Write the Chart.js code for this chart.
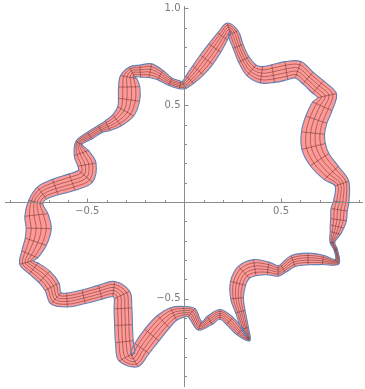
<!DOCTYPE html>
<html>
<head>
<meta charset="utf-8">
<script src="https://cdn.jsdelivr.net/npm/chart.js@4.4.1/dist/chart.umd.min.js"></script>
<style>
  html, body { margin: 0; padding: 0; background: #fff; }
  #wrap { width: 365px; height: 389px; position: relative; }
</style>
</head>
<body>
<div id="wrap"><canvas id="chart"></canvas></div>
<script>
// centre line of the band, counter-clockwise from the +x axis
const centerX = [
  0.811, 0.814, 0.759, 0.699, 0.668, 0.665, 0.682, 0.713, 0.737, 0.691,
  0.639, 0.588, 0.527, 0.459, 0.399, 0.347, 0.308, 0.278, 0.253, 0.230,
  0.198, 0.158, 0.115, 0.072, 0.029, 0.000, -0.021, -0.072, -0.124, -0.175,
  -0.227, -0.270, -0.287, -0.284, -0.285, -0.302, -0.347, -0.395, -0.433, -0.488,
  -0.543, -0.531, -0.502, -0.510, -0.579, -0.665, -0.734, -0.766, -0.763, -0.751,
  -0.766, -0.797, -0.814, -0.777, -0.722, -0.682, -0.662, -0.605, -0.519, -0.433,
  -0.364, -0.321, -0.316, -0.313, -0.309, -0.296, -0.258, -0.218, -0.167, -0.107,
  -0.055, 0.000, 0.038, 0.081, 0.132, 0.184, 0.235, 0.287, 0.332, 0.314,
  0.290, 0.273, 0.278, 0.308, 0.364, 0.433, 0.485, 0.510, 0.562, 0.639,
  0.716, 0.789, 0.782, 0.765, 0.780, 0.789, 0.797, 0.800
];
const centerY = [
  0.000, 0.095, 0.150, 0.219, 0.287, 0.356, 0.425, 0.494, 0.549, 0.594,
  0.640, 0.683, 0.678, 0.663, 0.657, 0.680, 0.735, 0.804, 0.873, 0.898,
  0.855, 0.795, 0.735, 0.680, 0.632, 0.604, 0.604, 0.621, 0.656, 0.678,
  0.676, 0.673, 0.645, 0.594, 0.528, 0.468, 0.422, 0.394, 0.377, 0.343,
  0.305, 0.253, 0.193, 0.133, 0.103, 0.077, 0.046, 0.000, -0.067, -0.136,
  -0.205, -0.270, -0.312, -0.343, -0.386, -0.437, -0.497, -0.506, -0.489, -0.466,
  -0.449, -0.480, -0.549, -0.635, -0.721, -0.799, -0.816, -0.756, -0.687, -0.618,
  -0.578, -0.566, -0.571, -0.639, -0.611, -0.580, -0.614, -0.670, -0.707, -0.652,
  -0.566, -0.497, -0.420, -0.363, -0.339, -0.343, -0.356, -0.343, -0.305, -0.294,
  -0.299, -0.308, -0.246, -0.209, -0.160, -0.126, -0.091, -0.040
];
const bandWidth = [
  0.080, 0.075, 0.100, 0.115, 0.125, 0.120, 0.115, 0.110, 0.100, 0.085,
  0.080, 0.090, 0.095, 0.092, 0.085, 0.072, 0.060, 0.055, 0.055, 0.055,
  0.062, 0.075, 0.080, 0.072, 0.055, 0.040, 0.040, 0.042, 0.055, 0.072,
  0.062, 0.055, 0.085, 0.110, 0.110, 0.095, 0.072, 0.055, 0.042, 0.042,
  0.036, 0.078, 0.095, 0.095, 0.090, 0.085, 0.078, 0.075, 0.120, 0.130,
  0.115, 0.090, 0.072, 0.072, 0.082, 0.082, 0.078, 0.072, 0.072, 0.074,
  0.078, 0.088, 0.092, 0.092, 0.092, 0.092, 0.078, 0.090, 0.095, 0.090,
  0.072, 0.054, 0.054, 0.048, 0.048, 0.050, 0.050, 0.042, 0.024, 0.036,
  0.050, 0.066, 0.080, 0.084, 0.084, 0.066, 0.054, 0.048, 0.060, 0.060,
  0.048, 0.030, 0.018, 0.024, 0.055, 0.072, 0.082, 0.085
];

// axes
const xTicks = [-0.5, 0.5];
const xTickLabels = ["\u22120.5", "0.5"];
const yTicks = [-0.5, 0.5, 1.0];
const yTickLabels = ["\u22120.5", "0.5", "1.0"];
const xMinor = [-0.9, -0.8, -0.7, -0.6, -0.5, -0.4, -0.3, -0.2, -0.1, 0.1, 0.2, 0.3, 0.4, 0.5, 0.6, 0.7, 0.8, 0.9];
const yMinor = [-0.9, -0.8, -0.7, -0.6, -0.5, -0.4, -0.3, -0.2, -0.1, 0.1, 0.2, 0.3, 0.4, 0.5, 0.6, 0.7, 0.8, 0.9, 1.0];

// point offset from the centre line by frac * width along the normal
function offsetPoint(k, frac) {
  const n = centerX.length;
  const prev = (k - 1 + n) % n;
  const next = (k + 1) % n;
  const tx = centerX[next] - centerX[prev];
  const ty = centerY[next] - centerY[prev];
  const len = Math.hypot(tx, ty) || 1;
  const d = bandWidth[k] * frac;
  return { x: centerX[k] + (ty / len) * d, y: centerY[k] - (tx / len) * d };
}

function offsetLine(frac) {
  const n = centerX.length;
  const pts = [];
  for (let i = 0; i <= n; i++) pts.push(offsetPoint(i % n, frac));
  return pts;
}

const GAP = { x: null, y: null };
const n = centerX.length;
const TENSION = 0.35;

const outer = offsetLine(0.5);
const inner = offsetLine(-0.5);

// band as one closed shape: outer edge, then inner edge backwards
const shape = [...outer, outer[n], inner[n], ...inner.slice().reverse()];

// cross mesh lines
const cross = [];
for (let i = 0; i < n; i++) {
  cross.push(outer[i], inner[i], GAP);
}

const edgeBlue = "#5e81b5";
const meshColor = "rgba(70,25,25,0.62)";
const lineBase = { pointRadius: 0, pointHoverRadius: 0, spanGaps: false, fill: false };

const datasets = [
  { ...lineBase, data: outer, tension: TENSION, borderColor: edgeBlue, borderWidth: 1.1 },
  { ...lineBase, data: inner, tension: TENSION, borderColor: edgeBlue, borderWidth: 1.1 },
  { ...lineBase, data: cross, tension: 0, borderColor: meshColor, borderWidth: 0.7 }
];
[-0.3, -0.1, 0.1, 0.3].forEach((f) => {
  datasets.push({ ...lineBase, data: offsetLine(f), tension: TENSION, borderColor: meshColor, borderWidth: 0.7 });
});
datasets.push({
  ...lineBase, data: shape, tension: TENSION, borderColor: "rgba(0,0,0,0)", borderWidth: 0.01,
  backgroundColor: "rgb(255,153,150)", fill: "shape"
});

const axesPlugin = {
  id: "centerAxes",
  afterDatasetsDraw(chart) {
    const ctx = chart.ctx;
    const xs = chart.scales.x;
    const ys = chart.scales.y;
    const ox = Math.round(xs.getPixelForValue(0)) + 0.5;
    const oy = Math.round(ys.getPixelForValue(0)) + 0.5;
    ctx.save();
    ctx.strokeStyle = "#8c8c8c";
    ctx.lineWidth = 1;
    ctx.beginPath();
    ctx.moveTo(xs.left, oy);
    ctx.lineTo(xs.right, oy);
    ctx.moveTo(ox, ys.top);
    ctx.lineTo(ox, ys.bottom);
    ctx.stroke();

    ctx.beginPath();
    xMinor.forEach((v) => {
      const px = Math.round(xs.getPixelForValue(v)) + 0.5;
      const len = xTicks.includes(v) ? 4 : 2.5;
      ctx.moveTo(px, oy);
      ctx.lineTo(px, oy - len);
    });
    yMinor.forEach((v) => {
      const py = Math.round(ys.getPixelForValue(v)) + 0.5;
      const len = yTicks.includes(v) ? 4 : 2.5;
      ctx.moveTo(ox, py);
      ctx.lineTo(ox + len, py);
    });
    ctx.stroke();

    ctx.fillStyle = "#7a7a7a";
    ctx.font = "10px 'DejaVu Sans', sans-serif";
    ctx.textAlign = "center";
    ctx.textBaseline = "top";
    xTicks.forEach((v, i) => {
      ctx.fillText(xTickLabels[i], xs.getPixelForValue(v), oy + 4);
    });
    ctx.textAlign = "right";
    ctx.textBaseline = "middle";
    yTicks.forEach((v, i) => {
      ctx.fillText(yTickLabels[i], ox - 4, ys.getPixelForValue(v));
    });
    ctx.restore();
  }
};

new Chart(document.getElementById("chart"), {
  type: "line",
  data: { datasets },
  options: {
    responsive: true,
    maintainAspectRatio: false,
    animation: false,
    events: [],
    layout: { padding: { left: 5, right: 2, top: 6, bottom: 2 } },
    plugins: { legend: { display: false }, tooltip: { enabled: false } },
    scales: {
      x: { type: "linear", min: -0.925, max: 0.923, display: false },
      y: { type: "linear", min: -0.955, max: 1.012, display: false }
    }
  },
  plugins: [axesPlugin]
});
</script>
</body>
</html>
